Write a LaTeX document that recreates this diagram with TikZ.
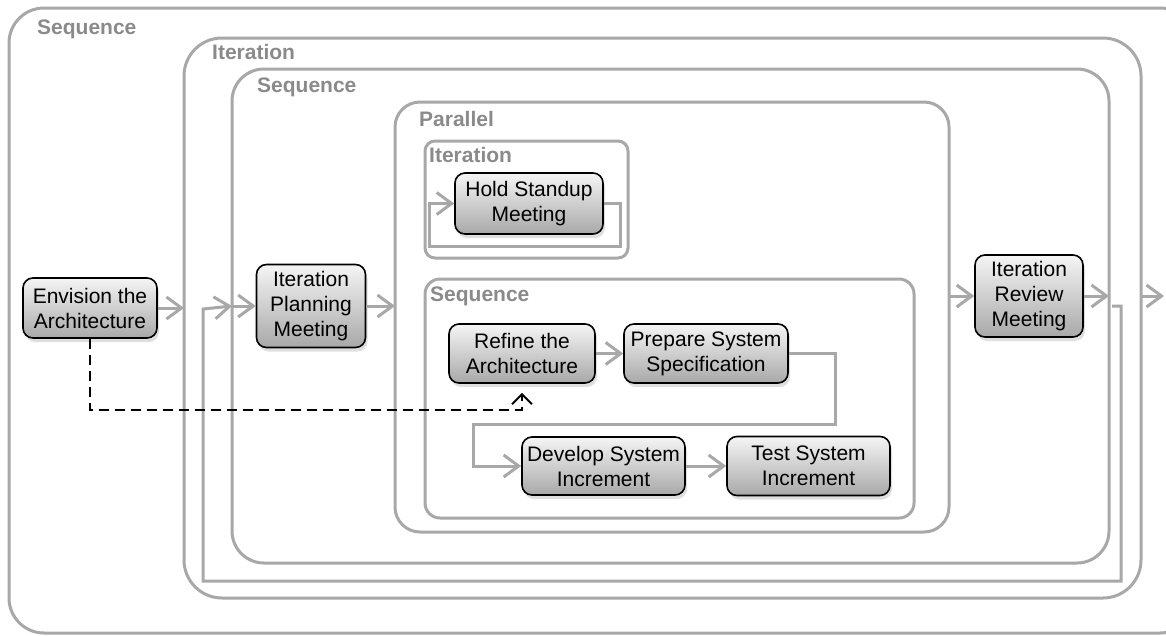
\documentclass[tikz,border=0pt]{standalone}
\usepackage{fontspec}
\setmainfont{Liberation Sans}
\usetikzlibrary{arrows.meta,shadows}
\definecolor{framegray}{RGB}{168,168,168}
\definecolor{taggray}{RGB}{138,138,138}
\tikzset{frame/.style = {draw=framegray, line width=3pt, inner sep=0pt, outer sep=0pt},
         tag/.style   = {anchor=base west, inner sep=0pt, text=taggray,
                         font=\bfseries\fontsize{21}{25}\selectfont},
         act/.style   = {draw=black, line width=1.6pt, rounded corners=10pt,
                         top color=black!4, bottom color=black!34,
                         align=center, inner sep=0pt,
                         font=\fontsize{21}{25}\selectfont,
                         drop shadow={opacity=0.25, shadow xshift=2pt, shadow yshift=-4pt}},
         flow/.style  = {draw=framegray, line width=3pt,
                         -{Straight Barb[length=15pt,width=22pt]}},
         depend/.style= {draw=black, line width=2pt, dash pattern=on 10pt off 6pt,
                         -{Straight Barb[length=10pt,width=20pt]}, shorten >=9pt}}

\begin{document}
\begin{tikzpicture}[x=1pt,y=-1pt]
    \useasboundingbox (0,0) rectangle (1166,635);
    \clip (0,0) rectangle (1166,635);

    % nested blocks
    \node[frame, rounded corners=35pt, minimum width=1186pt, minimum height=625pt] (seqA) at (602,320.5) {};
    \node[frame, rounded corners=38pt, minimum width=957pt, minimum height=560pt] (iterA) at (662.5,318) {};
    \node[frame, rounded corners=32pt, minimum width=877pt, minimum height=494pt] (seqB) at (670.5,316) {};
    \node[frame, rounded corners=25pt, minimum width=554pt, minimum height=430pt] (par) at (672,317) {};
    \node[frame, rounded corners=10pt, minimum width=203pt, minimum height=117pt] (iterB) at (526.5,199.5) {};
    \node[frame, rounded corners=15pt, minimum width=489pt, minimum height=239pt] (seqC) at (669.5,398.5) {};

    \node[tag] (tseqA) at (37,34) {Sequence};
    \node[tag] (titerA) at (212,59) {Iteration};
    \node[tag] (tseqB) at (257,92) {Sequence};
    \node[tag] (tpar) at (419,126) {Parallel};
    \node[tag] (titerB) at (429,162) {Iteration};
    \node[tag] (tseqC) at (430,301) {Sequence};

    % activities
    \node[act, minimum width=134pt, minimum height=60pt] (env) at (90,308) {Envision the\\Architecture};
    \node[act, minimum width=109pt, minimum height=83pt] (plan) at (311,306) {Iteration\\Planning\\Meeting};
    \node[act, minimum width=148pt, minimum height=61pt] (stand) at (529,203.5) {Hold Standup\\Meeting};
    \node[act, minimum width=146pt, minimum height=59pt] (refine) at (522,353.5) {Refine the\\Architecture};
    \node[act, minimum width=164pt, minimum height=59pt] (prep) at (706,353.5) {Prepare System\\Specification};
    \node[act, minimum width=163pt, minimum height=58pt] (dev) at (603.5,466) {Develop System\\Increment};
    \node[act, minimum width=163pt, minimum height=59pt] (test) at (808.5,466) {Test System\\Increment};
    \node[act, minimum width=108pt, minimum height=82pt] (review) at (1029,296) {Iteration\\Review\\Meeting};

    % control flow
    \draw[flow] (env.east) -- (env.east -| iterA.west);
    \draw[flow] (plan.west -| seqB.west) -- (plan.west);
    \draw[flow] (plan.east) -- (plan.east -| par.west);
    \draw[flow] (review.west -| par.east) -- (review.west);
    \draw[flow] (review.east) -- (review.east -| seqB.east);
    \coordinate (loopin) at (1112,306);
    \draw[flow] (loopin) -| ++(9,275) -| (203,309) -- (plan.west -| seqB.west);
    \coordinate (exit) at (1164,296);
    \draw[flow] (exit -| iterA.east) -- (exit);

    \draw[flow] (stand.east) -| ++(17,43) -| ([xshift=-25pt]stand.west) -- (stand.west);
    \draw[flow] (refine) -- (prep);
    \draw[flow] (prep.east) -| ++(47,70.5) -| ([xshift=-48pt]dev.west) -- (dev.west);
    \draw[flow] (dev) -- (test);

    \draw[depend] (env.south) |- ([yshift=-26pt]refine.south) -- (refine.south);
\end{tikzpicture}
\end{document}
